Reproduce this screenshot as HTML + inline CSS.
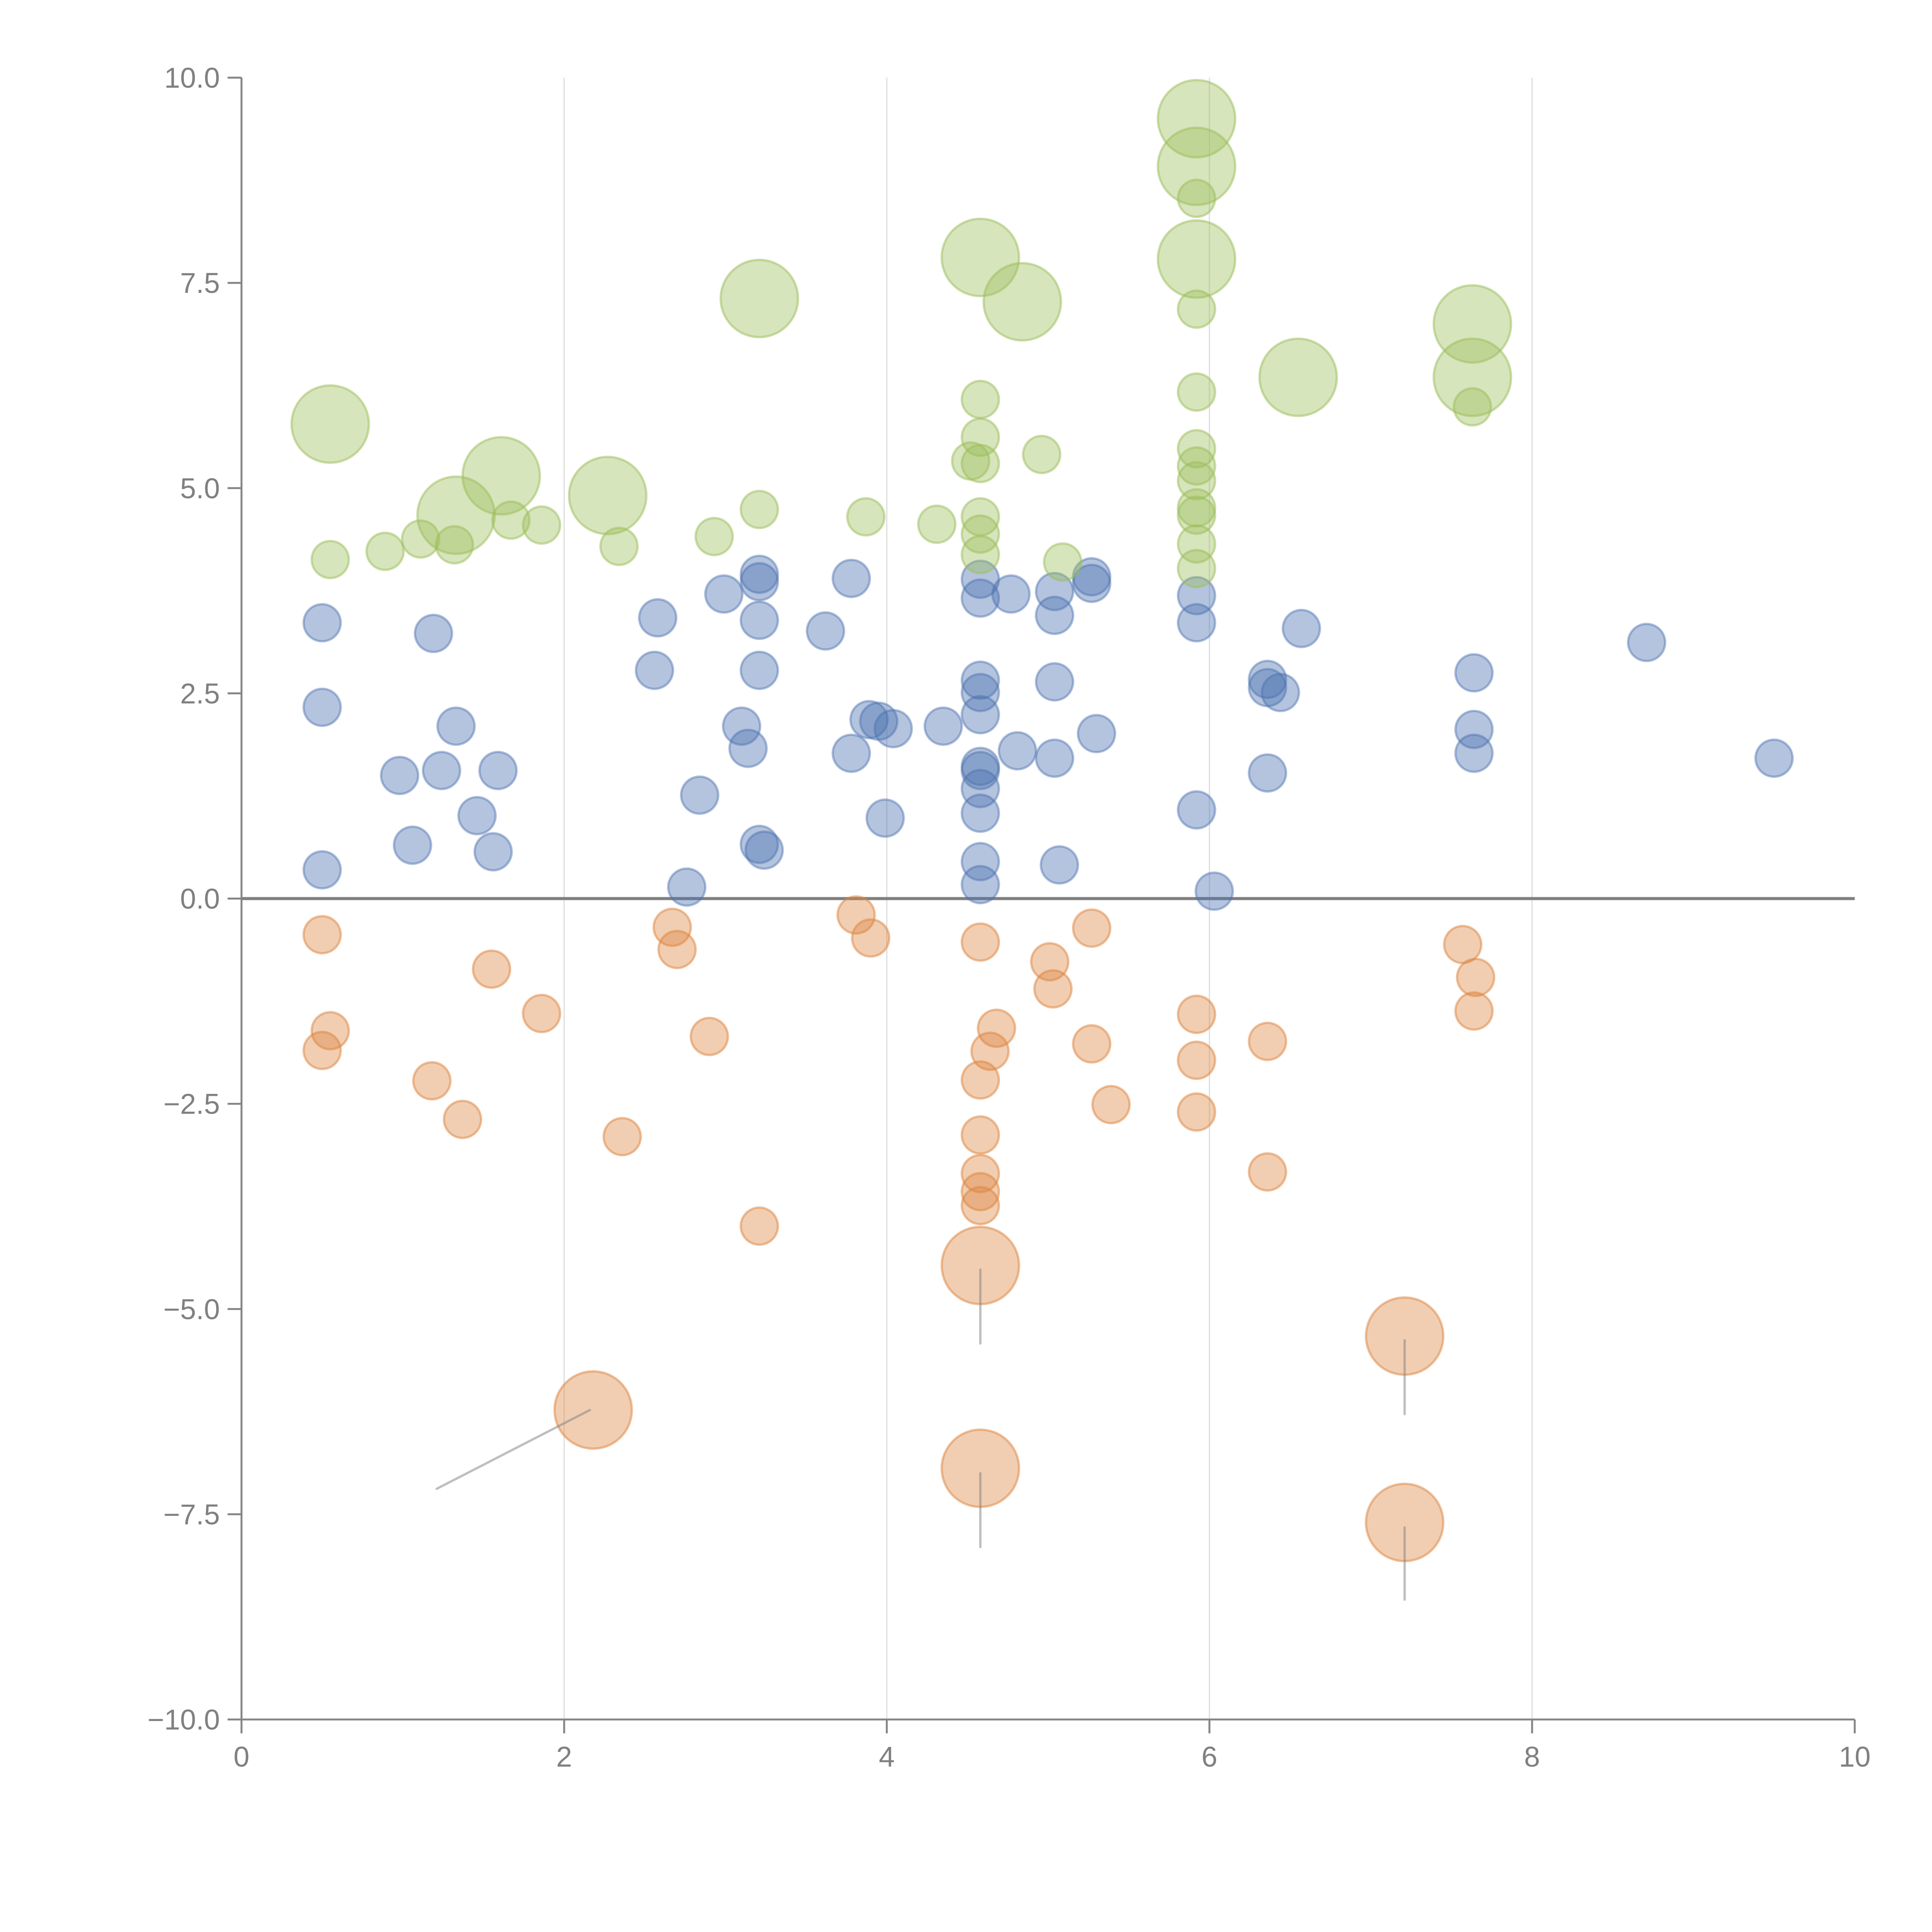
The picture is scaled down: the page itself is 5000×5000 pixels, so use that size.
<!DOCTYPE html>
<html><head><meta charset="utf-8">
<style>
html,body{margin:0;padding:0;background:#fff;}
svg{display:block;}
text{font-family:"Liberation Sans",sans-serif;fill:#808080;}
</style></head>
<body>
<svg id="chart" width="5000" height="5000" viewBox="0 0 5000 5000" xmlns="http://www.w3.org/2000/svg">
<g id="grid"></g>
<g id="axes"></g>
<g id="annots"></g>
<g id="marks"></g>
</svg>
<script>
const xTicks = [0, 2, 4, 6, 8, 10];
const yTicks = [-10, -7.5, -5, -2.5, 0, 2.5, 5, 7.5, 10];
const yTickLabels = ["\u221210.0","\u22127.5","\u22125.0","\u22122.5","0.0","2.5","5.0","7.5","10.0"];

const greenX = [0.55,0.55,0.89,1.11,1.32,1.33,1.61,1.67,1.86,2.27,2.34,2.93,3.21,3.21,3.87,4.31,4.52,4.58,4.84,4.58,4.58,4.58,4.58,4.58,4.58,4.96,5.09,5.92,5.92,5.92,5.92,5.92,5.92,5.92,5.92,5.92,5.92,5.92,5.92,5.92,6.55,7.63,7.63,7.63];
const greenY = [5.78,4.13,4.23,4.38,4.31,4.67,5.15,4.61,4.55,4.91,4.29,4.41,4.74,7.31,4.65,4.56,5.33,7.81,7.27,6.08,5.62,5.30,4.65,4.44,4.19,5.41,4.10,9.50,8.92,8.53,7.79,7.18,6.17,5.48,5.27,5.09,4.76,4.67,4.32,4.02,6.35,7.00,6.35,5.99];
const greenSize = [2,1,1,1,1,2,2,1,1,2,1,1,1,2,1,1,1,2,2,1,1,1,1,1,1,1,1,2,2,1,2,1,1,1,1,1,1,1,1,1,2,2,2,1];

const blueX = [0.50,0.50,0.50,0.98,1.06,1.19,1.24,1.33,1.46,1.56,1.59,2.56,2.58,2.76,2.84,2.99,3.10,3.14,3.21,3.21,3.21,3.21,3.21,3.24,3.62,3.78,3.78,3.89,3.95,4.04,3.99,4.35,4.58,4.58,4.58,4.58,4.58,4.58,4.58,4.58,4.58,4.58,4.58,4.77,4.81,5.04,5.04,5.04,5.04,5.07,5.27,5.27,5.30,5.92,5.92,5.92,6.03,6.36,6.36,6.44,6.36,6.57,7.64,7.64,7.64,8.71,9.50];
const blueY = [3.36,2.33,0.35,1.50,0.65,3.23,1.56,2.10,1.01,0.57,1.56,2.78,3.42,0.14,1.26,3.71,2.10,1.83,3.95,3.86,3.39,2.78,0.66,0.59,3.26,3.90,1.77,2.18,2.16,2.07,0.98,2.10,3.89,3.66,2.66,2.51,2.24,1.61,1.56,1.34,1.04,0.45,0.17,3.71,1.80,3.74,3.45,2.64,1.71,0.41,3.92,3.84,2.01,3.69,3.36,1.08,0.09,2.67,2.57,2.51,1.53,3.29,2.75,2.06,1.77,3.12,1.71];

const orangeX = [0.50,0.55,0.50,1.18,1.37,1.55,1.86,2.18,2.36,2.67,2.70,2.90,3.21,3.81,3.90,4.58,4.68,4.64,4.58,4.58,4.58,4.58,4.58,4.58,4.58,5.01,5.03,5.27,5.27,5.39,5.92,5.92,5.92,6.36,6.36,7.21,7.21,7.57,7.65,7.64];
const orangeY = [-0.44,-1.61,-1.85,-2.22,-2.69,-0.86,-1.40,-6.23,-2.90,-0.35,-0.62,-1.68,-3.99,-0.20,-0.48,-0.53,-1.58,-1.86,-2.21,-2.88,-3.35,-3.57,-3.74,-4.47,-6.94,-0.77,-1.10,-0.36,-1.77,-2.51,-1.41,-1.97,-2.60,-1.74,-3.33,-5.33,-7.60,-0.56,-0.96,-1.37];
const orangeSize = [1,1,1,1,1,1,1,2,1,1,1,1,1,1,1,1,1,1,1,1,1,1,1,2,2,1,1,1,1,1,1,1,1,1,1,2,2,1,1,1];

const annotX1 = [1.21,4.58,4.58,7.21,7.21];
const annotY1 = [-7.19,-4.52,-7.00,-5.38,-7.66];
const annotX2 = [2.16,4.58,4.58,7.21,7.21];
const annotY2 = [-6.23,-5.42,-7.90,-6.28,-8.54];

const L=625, R=4800, T=201, B=4450;
const xs = v => L + (v-0)/(10-0)*(R-L);
const ys = v => B - (v+10)/20*(B-T);
const NS="http://www.w3.org/2000/svg";
function mk(tag, attrs, parent){const e=document.createElementNS(NS,tag);for(const k in attrs)e.setAttribute(k,attrs[k]);parent.appendChild(e);return e;}

const grid=document.getElementById('grid'), axes=document.getElementById('axes');
xTicks.forEach(t=>{
  if(t>0&&t<10){const g=mk('line',{x1:xs(t),x2:xs(t),y1:T,y2:B,stroke:'#dcdcdc','stroke-width':3},grid);
  
  }
  const tk=mk('line',{x1:xs(t),x2:xs(t),y1:B,y2:B+36,stroke:'#858585','stroke-width':5},axes);
  
  
  const tx=mk('text',{x:xs(t),y:B+122,'font-size':74,'text-anchor':'middle'},axes);
  tx.textContent=String(t);
  
  
});
yTicks.forEach((t,i)=>{
  const tk=mk('line',{x1:L-36,x2:L,y1:ys(t),y2:ys(t),stroke:'#858585','stroke-width':5},axes);
  
  
  const tx=mk('text',{x:L-56,y:ys(t)+26,'font-size':74,'text-anchor':'end'},axes);
  tx.textContent=yTickLabels[i];
  
  
});
const ya=mk('line',{x1:L,x2:L,y1:T,y2:B,stroke:'#858585','stroke-width':5},axes);


const xa=mk('line',{x1:L,x2:R,y1:B,y2:B,stroke:'#858585','stroke-width':5},axes);


const zl=mk('line',{x1:L,x2:R,y1:ys(0),y2:ys(0),stroke:'#808080','stroke-width':8},axes);



const marks=document.getElementById('marks');
function series(X,Y,S,fill,stroke,name){
  X.forEach((x,i)=>{
    const r = (S && S[i]===2) ? 100 : 48;
    const c=mk('circle',{cx:xs(x),cy:ys(Y[i]),r:r,fill:fill,stroke:stroke,'stroke-width':6},marks);
    
    
  });
}
series(orangeX,orangeY,orangeSize,'rgba(221,132,62,0.4)','rgba(221,132,62,0.5)','orange-bubble');
series(blueX,blueY,null,'rgba(76,114,176,0.42)','rgba(76,114,176,0.45)','blue-bubble');
series(greenX,greenY,greenSize,'rgba(155,190,90,0.4)','rgba(155,190,90,0.5)','green-bubble');

const annots=document.getElementById('annots');
annotX1.forEach((x,i)=>{
  const l=mk('line',{x1:xs(x),y1:ys(annotY1[i]),x2:xs(annotX2[i]),y2:ys(annotY2[i]),stroke:'rgba(128,128,128,0.5)','stroke-width':6,'stroke-linecap':'round'},annots);
  
  
});
document.getElementById('chart').appendChild(annots);
</script>
</body></html>
